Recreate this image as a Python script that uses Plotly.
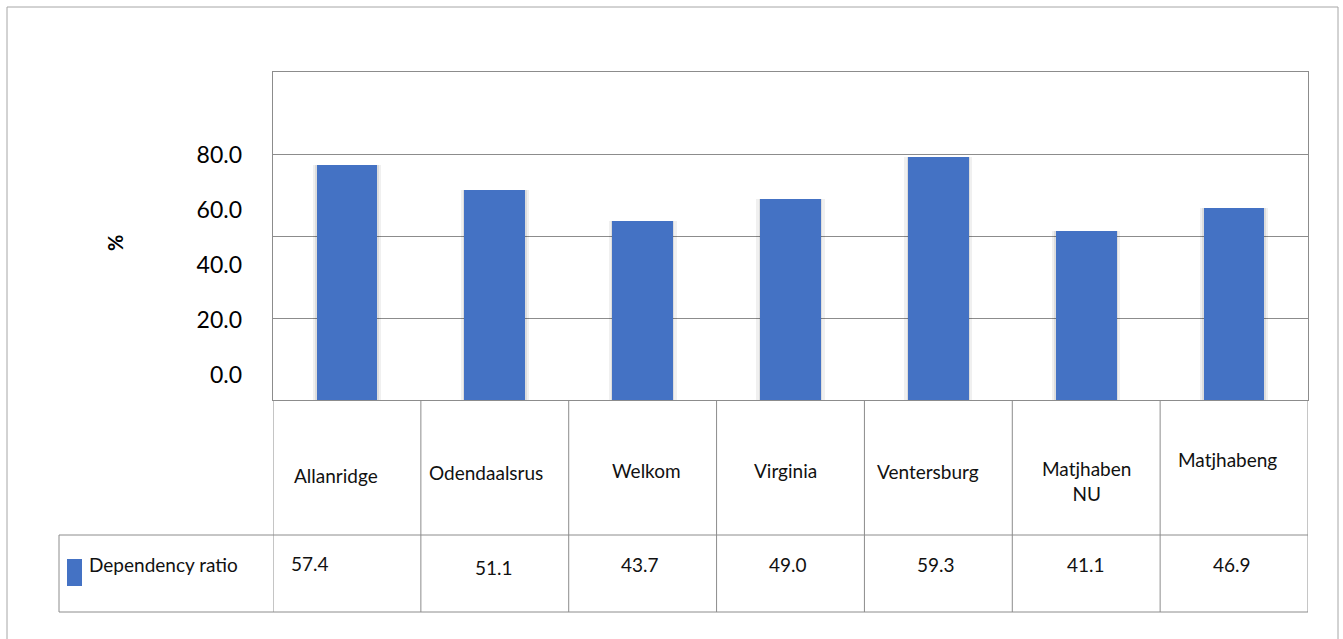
import plotly.graph_objects as go

# ---------------- data ----------------
categories = ["Allanridge", "Odendaalsrus", "Welkom", "Virginia",
              "Ventersburg", "Matjhaben NU", "Matjhabeng"]
category_labels = ["Allanridge", "Odendaalsrus", "Welkom", "Virginia",
                   "Ventersburg", "Matjhaben<br>NU", "Matjhabeng"]
dependency_ratio = [57.4, 51.1, 43.7, 49.0, 59.3, 41.1, 46.9]
series_name = "Dependency ratio"
y_tick_values = [0, 20, 40, 60, 80]
y_tick_labels = ["0.0", "20.0", "40.0", "60.0", "80.0"]
axis_title = "%"

# ---------------- layout geometry ----------------
W, H = 1343, 639
L, R, T, B = 273, 1308, 72, 400  # plot area in pixels
FONT = "Lato, 'Open Sans', Arial, sans-serif"
GRID = "#8c8c8c"
BAR = "#4472C4"
TXT = "#111111"


def xp(px):
    return (px - L) / (R - L)


def yp(py):
    return (B - py) / (B - T)


idx = list(range(len(categories)))

fig = go.Figure()

# soft shadow behind bars
fig.add_trace(go.Bar(x=idx, y=dependency_ratio, width=0.46,
                     marker=dict(color="rgba(0,0,0,0.06)", line=dict(width=0)),
                     hoverinfo="skip", showlegend=False))
fig.add_trace(go.Bar(x=idx, y=dependency_ratio, width=0.43,
                     marker=dict(color="rgba(0,0,0,0.08)", line=dict(width=0)),
                     hoverinfo="skip", showlegend=False))
# bars
fig.add_trace(go.Bar(x=idx, y=dependency_ratio, width=0.41, name=series_name,
                     marker=dict(color=BAR, line=dict(width=0)),
                     showlegend=False))
# invisible trace to carry the label axis
fig.add_trace(go.Scatter(x=[0], y=[0], yaxis="y2", mode="markers",
                         marker=dict(opacity=0), hoverinfo="skip",
                         showlegend=False))

# label axis: Excel drew the labels on a compressed scale (0 at 375px, 80 at 155px)
px_per_unit = (375 - 155) / 80.0
y2_lo = -(B - 375) / px_per_unit
y2_hi = (375 - T) / px_per_unit

fig.update_layout(
    width=W, height=H,
    margin=dict(l=L, r=W - R, t=T, b=H - B, pad=0),
    paper_bgcolor="white", plot_bgcolor="white",
    barmode="overlay", bargap=0,
    font=dict(family=FONT, color=TXT),
    xaxis=dict(range=[-0.5, len(categories) - 0.5], showticklabels=False,
               showgrid=False, zeroline=False, ticks="",
               showline=True, linecolor=GRID, linewidth=1, mirror=True),
    yaxis=dict(range=[0, 80], showticklabels=False, ticks="",
               tickvals=y_tick_values, showgrid=True, gridcolor=GRID,
               gridwidth=1, zeroline=False,
               showline=True, linecolor=GRID, linewidth=1, mirror=True),
    yaxis2=dict(range=[y2_lo, y2_hi], overlaying="y", side="left",
                tickvals=y_tick_values, ticktext=y_tick_labels,
                showgrid=False, zeroline=False, showline=False, ticks="",
                ticklabelstandoff=30,
                tickfont=dict(family=FONT, size=23, color="#000000")),
    showlegend=False,
)

shapes = []
# outer chart border
shapes.append(dict(type="rect", xref="paper", yref="paper",
                   x0=xp(7), x1=xp(1338), y0=yp(650), y1=yp(7),
                   line=dict(color="#a6a6a6", width=1), layer="below"))
# data table: vertical lines at category boundaries
for k in range(len(categories) + 1):
    shapes.append(dict(type="line", xref="x", yref="paper",
                       x0=k - 0.5, x1=k - 0.5, y0=yp(B), y1=yp(612),
                       line=dict(color=GRID, width=1)))
# horizontal lines of the data table
shapes.append(dict(type="line", xref="paper", yref="paper",
                   x0=xp(59), x1=1, y0=yp(535), y1=yp(535),
                   line=dict(color=GRID, width=1)))
shapes.append(dict(type="line", xref="paper", yref="paper",
                   x0=xp(59), x1=1, y0=yp(612), y1=yp(612),
                   line=dict(color=GRID, width=1)))
shapes.append(dict(type="line", xref="paper", yref="paper",
                   x0=xp(59), x1=xp(59), y0=yp(535), y1=yp(612),
                   line=dict(color=GRID, width=1)))
# legend key
shapes.append(dict(type="rect", xref="paper", yref="paper",
                   x0=xp(67), x1=xp(82), y0=yp(586), y1=yp(559),
                   fillcolor=BAR, line=dict(width=0)))

annotations = []
# axis title
annotations.append(dict(text=f"<b>{axis_title}</b>", xref="paper", yref="paper",
                        x=xp(115), y=yp(243), textangle=-90, showarrow=False,
                        xanchor="center", yanchor="middle",
                        font=dict(family=FONT, size=20, color="#000000")))
# category row
cat_dx = [-11, -9, 4, -5, -10, 0, -7]
cat_y = [475, 472, 470, 470, 471, 481, 459]
for i, lab in enumerate(category_labels):
    annotations.append(dict(text=lab, xref="x", yref="paper", x=i,
                            y=yp(cat_y[i]), xshift=cat_dx[i], showarrow=False,
                            xanchor="center", yanchor="middle",
                            font=dict(family=FONT, size=19, color=TXT)))
# value row
val_dx = [-37, -1, -3, -3, -2, 0, -2]
val_y = [563, 567, 564, 564, 564, 564, 564]
for i, v in enumerate(dependency_ratio):
    annotations.append(dict(text=f"{v:.1f}", xref="x", yref="paper", x=i,
                            y=yp(val_y[i]), xshift=val_dx[i], showarrow=False,
                            xanchor="center", yanchor="middle",
                            font=dict(family=FONT, size=19, color=TXT)))
# series label in the table
annotations.append(dict(text=series_name, xref="paper", yref="paper",
                        x=xp(87), y=yp(564), xanchor="left", yanchor="middle",
                        showarrow=False,
                        font=dict(family=FONT, size=19, color=TXT)))

fig.update_layout(shapes=shapes, annotations=annotations)

fig.write_html("out.html",
               config={"displayModeBar": False},
               post_script="document.body.style.margin='0';"
                           "document.body.style.overflow='hidden';")
